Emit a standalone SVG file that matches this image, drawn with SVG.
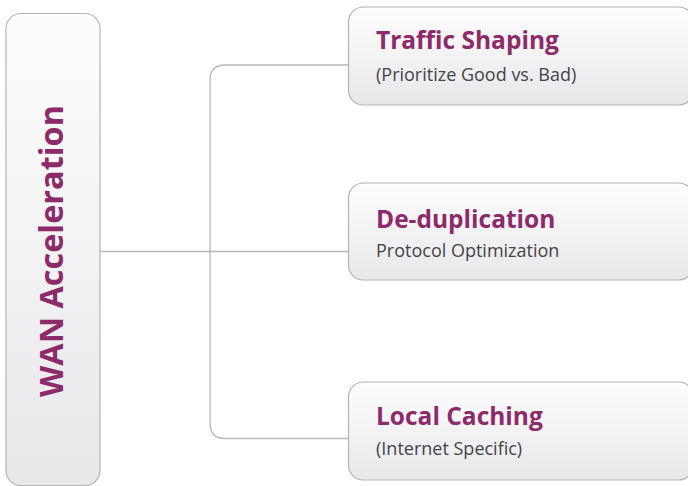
<svg xmlns="http://www.w3.org/2000/svg" width="688" height="486" viewBox="0 0 688 486">
<defs>
<linearGradient id="g" x1="0" y1="0" x2="0" y2="1">
<stop offset="0" stop-color="#fdfdfd"/>
<stop offset="1" stop-color="#e8e8eb"/>
</linearGradient>
<style>
.box{fill:url(#g);stroke:#b4b4b8;stroke-width:1.2}
.conn{fill:none;stroke:#b8b8bc;stroke-width:1.3}
.t{font-family:"Open Sans","Noto Sans",sans-serif;font-weight:bold;fill:#8d2a6a;font-size:24.5px}
.s{font-family:"Open Sans","Noto Sans",sans-serif;fill:#444446;font-size:18px}
.v{font-family:"Open Sans","Noto Sans",sans-serif;font-weight:bold;fill:#8d2a6a;font-size:33px}
</style>
</defs>
<rect width="688" height="486" fill="#ffffff"/>
<g id="connectors">
<path class="conn" d="M100,251.5 H349"/>
<path class="conn" d="M349,65 H225 Q210,65 210,80 V423 Q210,438.5 225,438.5 H349"/>
</g>
<g id="wan">
<rect class="box" x="6" y="13.5" width="94" height="472" rx="15"/>
<text class="v" transform="translate(63,251) rotate(-90)" text-anchor="middle" textLength="292" lengthAdjust="spacingAndGlyphs">WAN Acceleration</text>
</g>
<g id="traffic">
<rect class="box" x="348.5" y="7" width="345" height="98" rx="15"/>
<text class="t" x="376" y="49">Traffic Shaping</text>
<text class="s" x="376" y="80.5">(Prioritize Good vs. Bad)</text>
</g>
<g id="dedup">
<rect class="box" x="348.5" y="183" width="345" height="97" rx="15"/>
<text class="t" x="376" y="227.5">De-duplication</text>
<text class="s" x="376" y="257">Protocol Optimization</text>
</g>
<g id="caching">
<rect class="box" x="348.5" y="382" width="345" height="98" rx="15"/>
<text class="t" x="376" y="425">Local Caching</text>
<text class="s" x="376" y="455">(Internet Specific)</text>
</g>
</svg>
